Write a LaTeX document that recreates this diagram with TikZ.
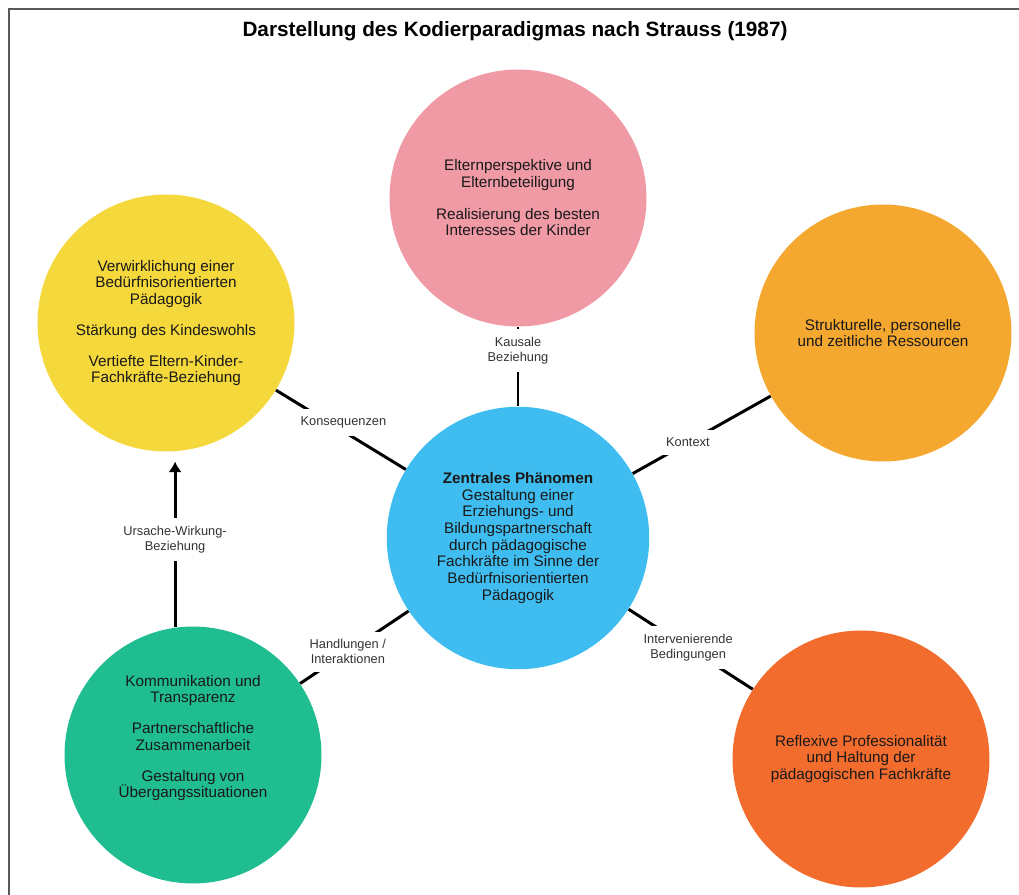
\documentclass[tikz,border=0pt]{standalone}
\usepackage{fontspec}
\setmainfont{Liberation Sans}
\usetikzlibrary{arrows.meta,positioning}

\definecolor{kreisrosa}{HTML}{F09AA6}
\definecolor{kreisgelb}{HTML}{F4D83C}
\definecolor{kreisorange}{HTML}{F5A82F}
\definecolor{kreisblau}{HTML}{40BDF0}
\definecolor{kreisgruen}{HTML}{1FBD8F}
\definecolor{kreisrot}{HTML}{F26C2E}

\newcommand{\circfont}{\fontsize{8.7}{9.5}\selectfont}
\newcommand{\edgefont}{\fontsize{7.3}{8.5}\selectfont}
\newcommand{\titelfont}{\fontsize{11.8}{14}\selectfont\bfseries}

\begin{document}
\begin{tikzpicture}[
  x=0.02cm, y=-0.02cm,
  every node/.style={font=\circfont},
  bubble/.style={circle, minimum size=5.14cm, inner sep=0pt, align=center, text=black!90},
  bubbletext/.style={align=center, text=black!90},
  edgelabel/.style={fill=white, inner sep=4.5pt, align=center, font=\edgefont, text=black!80},
  link/.style={line width=1.7pt},
  arrow/.style={-{Latex[length=6pt,width=7.5pt]}, line width=1.7pt, shorten >=5.5pt},
  frame/.style={draw=black!65, line width=1pt}
]
\useasboundingbox (0,0) rectangle (1019,895);
\draw[frame] (9,895) -- (9,9) -- (1019,9);
\node[font=\titelfont] (title) at (515,31) {Darstellung des Kodierparadigmas nach Strauss (1987)};

% Kreise
\node[bubble, fill=kreisblau, minimum size=5.25cm] (centre) at (518,538) {\textbf{Zentrales Phänomen}\\Gestaltung einer\\Erziehungs- und\\Bildungspartnerschaft\\durch pädagogische\\Fachkräfte im Sinne der\\Bedürfnisorientierten\\Pädagogik};
\node[bubble, fill=kreisrosa] (eltern) at (518,198) {Elternperspektive und\\Elternbeteiligung\\[8.5pt]Realisierung des besten\\Interesses der Kinder};
\node[bubble, fill=kreisgelb] (folgen) at (166,323) {Verwirklichung einer\\Bedürfnisorientierten\\Pädagogik\\[8pt]Stärkung des Kindeswohls\\[8pt]Vertiefte Eltern-Kinder-\\Fachkräfte-Beziehung};
\node[bubble, fill=kreisorange] (ressourcen) at (883,333) {Strukturelle, personelle\\und zeitliche Ressourcen};
\node[bubble, fill=kreisgruen] (handeln) at (193,755) {};
\node[bubbletext] (handelntext) at (193,738) {Kommunikation und\\Transparenz\\[8pt]Partnerschaftliche\\Zusammenarbeit\\[8pt]Gestaltung von\\Übergangssituationen};
\node[bubble, fill=kreisrot] (haltung) at (861,759) {Reflexive Professionalität\\und Haltung der\\pädagogischen Fachkräfte};

% Verbindungen
\draw[link] (eltern) -- node[edgelabel, pos=0.3] (kausal) {Kausale\\Beziehung} (centre);
\draw[link] (folgen) -- node[edgelabel, pos=0.52, yshift=5pt] (konsequenz) {Konsequenzen} (centre);
\draw[link] (ressourcen) -- node[edgelabel, pos=0.6] (kontext) {Kontext} (centre);
\draw[link] (centre) -- node[edgelabel, pos=0.48] (intervenierend) {Intervenierende\\Bedingungen} (haltung);
\draw[link] (centre) -- node[edgelabel, pos=0.56] (interaktion) {Handlungen /\\Interaktionen} (handeln);
\draw[arrow] (handeln.98) -- node[edgelabel] (ursache) {Ursache-Wirkung-\\Beziehung} (handeln.98 |- folgen.south);
\end{tikzpicture}
\end{document}
